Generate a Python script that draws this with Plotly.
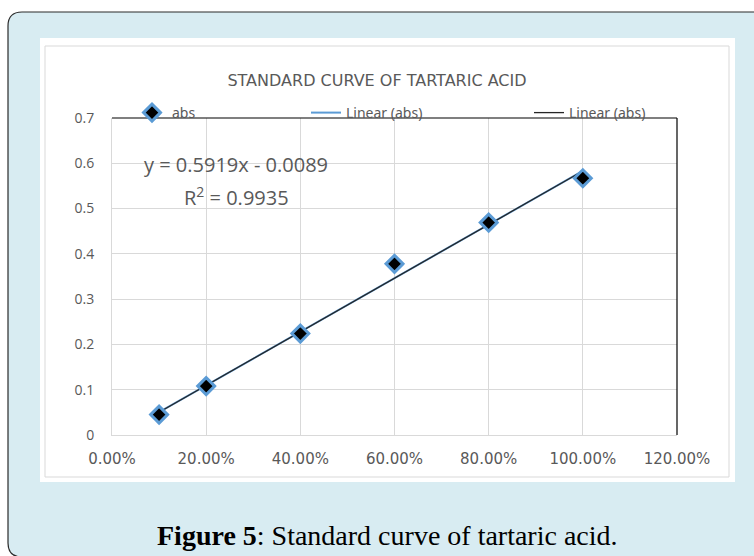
import plotly.graph_objects as go

# ---- data ----
concentration = [0.10, 0.20, 0.40, 0.60, 0.80, 1.00]
absorbance = [0.045, 0.108, 0.224, 0.378, 0.469, 0.567]
fit_slope = 0.5919
fit_intercept = -0.0089
r_squared = 0.9935
x_tick_values = [0.0, 0.2, 0.4, 0.6, 0.8, 1.0, 1.2]
y_tick_values = [0, 0.1, 0.2, 0.3, 0.4, 0.5, 0.6, 0.7]

W, H = 754, 556
def px(x):
    return x / W
def py(y):
    return 1 - y / H

fit_x = [min(concentration), max(concentration)]
fit_y = [fit_slope * v + fit_intercept for v in fit_x]

GRAY = "#595959"
fig = go.Figure()
fig.add_trace(go.Scatter(
    x=fit_x, y=fit_y, mode="lines", name="Linear (abs)",
    line=dict(color="#5b9bd5", width=2), legend="legend2"))
fig.add_trace(go.Scatter(
    x=fit_x, y=fit_y, mode="lines", name="Linear (abs)",
    line=dict(color="#262626", width=1.3), legend="legend3"))
fig.add_trace(go.Scatter(
    x=concentration, y=absorbance, mode="markers", name="abs",
    marker=dict(symbol="diamond", size=13, color="black",
                line=dict(color="#5b9bd5", width=3)),
    legend="legend", cliponaxis=False))

# panel shapes
x0, xr = px(8), px(800)
yt, yb = py(12), py(557)
rx, ry = 14 / W, 14 / H
panel_path = (f"M {x0},{yb+ry} L {x0},{yt-ry} Q {x0},{yt} {x0+rx},{yt} "
              f"L {xr},{yt} L {xr},{yb} L {x0+rx},{yb} Q {x0},{yb} {x0},{yb+ry} Z")
shapes = [
    dict(type="path", xref="paper", yref="paper", path=panel_path,
         fillcolor="#d8ecf2", line=dict(color="#2b2b2b", width=1.2), layer="below"),
    dict(type="rect", xref="paper", yref="paper", x0=px(40), x1=px(735),
         y0=py(482), y1=py(38), fillcolor="white", line=dict(width=0), layer="below"),
    dict(type="rect", xref="paper", yref="paper", x0=px(45), x1=px(729),
         y0=py(477), y1=py(46), fillcolor="rgba(0,0,0,0)",
         line=dict(color="#d9d9d9", width=1), layer="below"),
    dict(type="line", xref="x domain", yref="y domain", x0=0, x1=1, y0=1, y1=1,
         line=dict(color="black", width=1.2)),
    dict(type="line", xref="x domain", yref="y domain", x0=1, x1=1, y0=0, y1=1,
         line=dict(color="black", width=1.2)),
]

annotations = [
    dict(xref="paper", yref="paper", x=px(236), y=py(165), xanchor="center", yanchor="middle",
         text=f"y = {fit_slope}x - {abs(fit_intercept)}", showarrow=False,
         font=dict(family="Open Sans", size=20, color=GRAY)),
    dict(xref="paper", yref="paper", x=px(236), y=py(196), xanchor="center", yanchor="middle",
         text=f"R<sup>2</sup> = {r_squared}", showarrow=False,
         font=dict(family="Open Sans", size=20, color=GRAY)),
    dict(xref="paper", yref="paper", x=px(387), y=py(535), xanchor="center", yanchor="middle",
         text="<b>Figure 5</b>: Standard curve of tartaric acid.", showarrow=False,
         font=dict(family="Liberation Serif", size=28, color="black")),
]

legend_font = dict(family="Liberation Sans Narrow, Noto Sans", size=14, color=GRAY)
def leg(xpix):
    return dict(x=px(xpix), y=py(113), xanchor="left", yanchor="middle",
                orientation="h", bgcolor="rgba(0,0,0,0)", font=legend_font,
                itemclick=False, itemdoubleclick=False)

fig.update_layout(
    width=W, height=H,
    margin=dict(l=0, r=0, t=0, b=0, autoexpand=False),
    paper_bgcolor="white", plot_bgcolor="white",
    title=dict(text="STANDARD CURVE OF TARTARIC ACID", x=px(377), xref="paper",
               y=py(80), yref="paper", xanchor="center", yanchor="middle",
               font=dict(family="DejaVu Sans", size=16, color=GRAY)),
    showlegend=True,
    legend=leg(132), legend2=leg(306), legend3=leg(529),
    xaxis=dict(domain=[px(112), px(677)], range=[0, 1.2], tickvals=x_tick_values,
               tickformat=".2%", showgrid=True, gridcolor="#d9d9d9", gridwidth=1,
               zeroline=False, showline=True, linecolor="#d9d9d9",
               ticks="", ticklabelstandoff=10,
               tickfont=dict(family="DejaVu Sans", size=15, color=GRAY)),
    yaxis=dict(domain=[py(435), py(118)], range=[0, 0.7], tickvals=y_tick_values,
               showgrid=True, gridcolor="#d9d9d9", gridwidth=1,
               zeroline=False, showline=True, linecolor="#d9d9d9",
               ticks="", ticklabelstandoff=14,
               tickfont=dict(family="Open Sans", size=14, color=GRAY)),
    shapes=shapes, annotations=annotations,
)

fig.write_html("out.html", config={"displayModeBar": False},
               post_script="document.body.style.margin='0';document.body.style.overflow='hidden';")
